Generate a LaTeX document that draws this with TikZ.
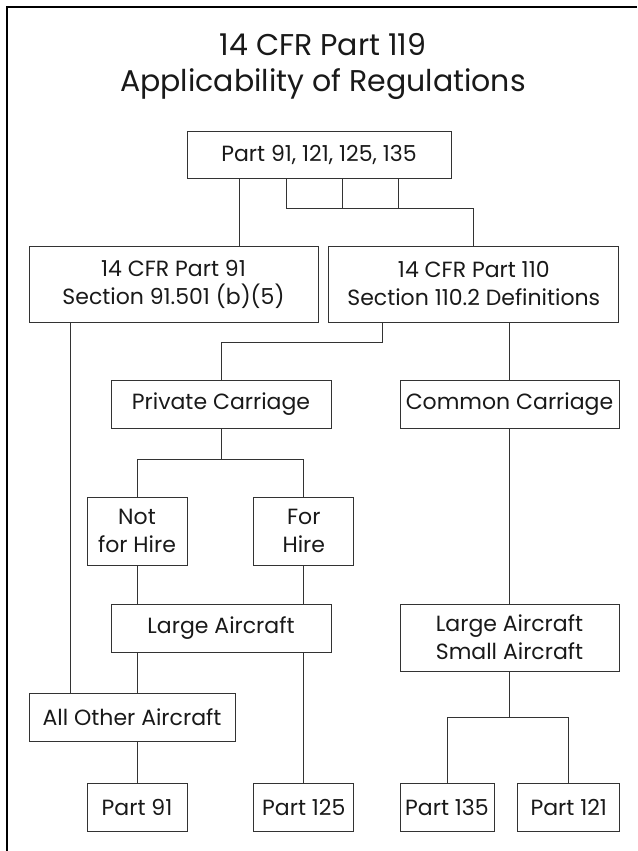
\documentclass[tikz,border=0pt]{standalone}
\usepackage{fontspec}
\setmainfont{Poppins}
\usetikzlibrary{positioning}

\begin{document}
\begin{tikzpicture}[
  x=1pt, y=-1pt,
  node distance=10pt,
  box/.style={rectangle, draw=black!80, line width=0.8pt, inner sep=0pt, align=center, font=\fontsize{22}{28}\selectfont, text=black!90},
  link/.style={draw=black!80, line width=0.8pt}
]
  \useasboundingbox (0,0) rectangle (637,851);
  \draw[line width=1.3pt] (7,851) -- (7,7) -- (637,7);

  % Titel
  \node[align=center, font=\fontsize{30}{36}\selectfont, text=black!90] (title) at (323,66.5) {14 CFR Part 119\\Applicability of Regulations};

  % Regeln
  \node[box, minimum width=264, minimum height=47] (parts) at (319,154.5) {Part 91, 121, 125, 135};
  \node[box, minimum width=289, minimum height=76] (cfr91) at (173.5,284) {14 CFR Part 91\\Section 91.501 (b)(5)};
  \node[box, minimum width=290, minimum height=76, right=of cfr91] (cfr110) {14 CFR Part 110\\Section 110.2 Definitions};

  % Befoerderung
  \node[box, minimum width=220, minimum height=48] (private) at (221,404) {Private Carriage};
  \node[box, minimum width=219, minimum height=48] (common) at (509.5,404) {Common Carriage};
  \node[box, minimum width=100, minimum height=68] (nothire) at (137,531) {Not\\for Hire};
  \node[box, minimum width=100, minimum height=68, right=66pt of nothire] (forhire) {For\\Hire};

  % Luftfahrzeuge
  \node[box, minimum width=220, minimum height=48] (large) at (221,628) {Large Aircraft};
  \node[box, minimum width=219, minimum height=67] (largesmall) at (509.5,637.5) {Large Aircraft\\Small Aircraft};
  \node[box, minimum width=206, minimum height=48] (allother) at (132,717) {All Other Aircraft};

  % Ergebnis
  \node[box, minimum width=100, minimum height=48] (p91) at (137,807) {Part 91};
  \node[box, minimum width=100, minimum height=48, right=66pt of p91] (p125) {Part 125};
  \node[box, minimum width=94, minimum height=48] (p135) at (447,807) {Part 135};
  \node[box, minimum width=102, minimum height=48, right=23pt of p135] (p121) {Part 121};

  \coordinate (pj) at ([xshift=-33pt, yshift=-30pt]parts.south);
  \coordinate (cj) at ([xshift=54pt, yshift=-20pt]cfr110.south west);
  \coordinate (pv) at ([yshift=-31pt]private.south);
  \coordinate (ls) at ([yshift=-46pt]largesmall.south);

  \draw[link] ([xshift=-80pt]parts.south) -- ([xshift=-80pt]parts.south |- cfr91.north);
  \draw[link] ([xshift=-33pt]parts.south) -- (pj) -| (cfr110.north);
  \draw[link] ([xshift=23pt]parts.south) -- ++(0,30);
  \draw[link] ([xshift=79pt]parts.south) -- ++(0,30);

  \draw[link] ([xshift=42pt]cfr91.south west) -- ([xshift=42pt]allother.north west);
  \draw[link] ([xshift=54pt]cfr110.south west) -- (cj) -| (private.north);
  \draw[link] (cfr110.south -| common.north) -- (common.north);

  \draw[link] (private.south) -- (pv);
  \draw[link] (nothire.north) |- (pv) -| (forhire.north);
  \draw[link] (nothire.south) -- (nothire.south |- large.north);
  \draw[link] (forhire.south) -- (forhire.south |- large.north);
  \draw[link] (common.south) -- (largesmall.north);

  \draw[link] (nothire.south |- large.south) -- (nothire.south |- allother.north);
  \draw[link] (p125.north |- large.south) -- (p125.north);
  \draw[link] (allother.south -| p91.north) -- (p91.north);
  \draw[link] (largesmall.south) -- (ls);
  \draw[link] (p135.north) |- (ls) -| (p121.north);
\end{tikzpicture}
\end{document}
